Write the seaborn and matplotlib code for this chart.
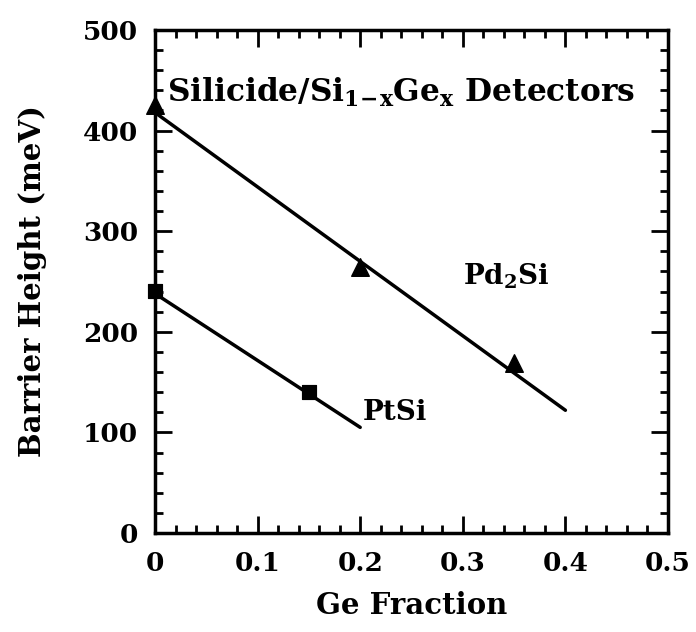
import matplotlib
matplotlib.use("Agg")
import matplotlib.pyplot as plt
import seaborn as sns
from matplotlib.ticker import MultipleLocator

# Data
pd2si_x = [0.0, 0.2, 0.35]
pd2si_y = [425, 264, 169]
pd2si_fit_x = [0.0, 0.4]
pd2si_fit_y = [418, 122]

ptsi_x = [0.0, 0.15]
ptsi_y = [241, 140]
ptsi_fit_x = [0.0, 0.2]
ptsi_fit_y = [238, 105]

x_ticks = [0, 0.1, 0.2, 0.3, 0.4, 0.5]
x_tick_labels = ["0", "0.1", "0.2", "0.3", "0.4", "0.5"]
y_ticks = [0, 100, 200, 300, 400, 500]

sns.set_theme(style="ticks")
plt.rcParams['font.family'] = ['DejaVu Serif']
plt.rcParams['font.weight'] = 'bold'
plt.rcParams['text.color'] = 'black'
plt.rcParams['axes.labelcolor'] = 'black'
plt.rcParams['xtick.color'] = 'black'
plt.rcParams['ytick.color'] = 'black'
plt.rcParams['mathtext.fontset'] = 'dejavuserif'
plt.rcParams['mathtext.default'] = 'bf'

fig = plt.figure(figsize=(6.96, 6.32), dpi=100)
ax = fig.add_axes([155/696, 1 - 533/632, (668-155)/696, (533-30)/632])

sns.lineplot(x=pd2si_fit_x, y=pd2si_fit_y, ax=ax, color="black", linewidth=2.5)
sns.lineplot(x=ptsi_fit_x, y=ptsi_fit_y, ax=ax, color="black", linewidth=2.5)
sns.scatterplot(x=pd2si_x, y=pd2si_y, ax=ax, marker="^", s=160, color="black",
                edgecolor="black", zorder=5, clip_on=False)
sns.scatterplot(x=ptsi_x, y=ptsi_y, ax=ax, marker="s", s=110, color="black",
                edgecolor="black", zorder=5, clip_on=False)

ax.set_xlim(0, 0.5)
ax.set_ylim(0, 500)
ax.set_xticks(x_ticks)
ax.set_xticklabels(x_tick_labels)
ax.set_yticks(y_ticks)
ax.xaxis.set_minor_locator(MultipleLocator(0.02))
ax.yaxis.set_minor_locator(MultipleLocator(20))
ax.tick_params(which="both", direction="in", top=True, right=True, width=2, color="black")
ax.tick_params(which="major", length=12, labelsize=19, labelcolor="black")
ax.tick_params(axis="x", which="major", pad=13)
ax.tick_params(axis="y", which="major", pad=12)
ax.tick_params(which="minor", length=6)
for lab in ax.get_xticklabels() + ax.get_yticklabels():
    lab.set_fontweight("bold")
for sp in ax.spines.values():
    sp.set_linewidth(2.5)
    sp.set_color("black")

ax.set_xlabel("Ge Fraction", fontsize=21, fontweight="bold", color="black")
ax.set_ylabel("Barrier Height (meV)", fontsize=21, fontweight="bold", color="black")
ax.xaxis.set_label_coords(0.5, (533 - 605) / 503, transform=ax.transAxes)
ax.yaxis.set_label_coords((32 - 155) / 513, 0.5, transform=ax.transAxes)
ax.xaxis.label.set_va("center")
ax.yaxis.label.set_va("center")

ax.text(0.240, 438, r"Silicide/Si$_{1\!-\!x}$Ge$_x$ Detectors", fontsize=22.5,
        fontweight="bold", ha="center", va="center", color="black")
ax.text(0.300, 255, r"Pd$_2$Si", fontsize=20, fontweight="bold", ha="left", va="center", color="black")
ax.text(0.202, 120, "PtSi", fontsize=20, fontweight="bold", ha="left", va="center", color="black")

fig.savefig("out.png", dpi=100)
